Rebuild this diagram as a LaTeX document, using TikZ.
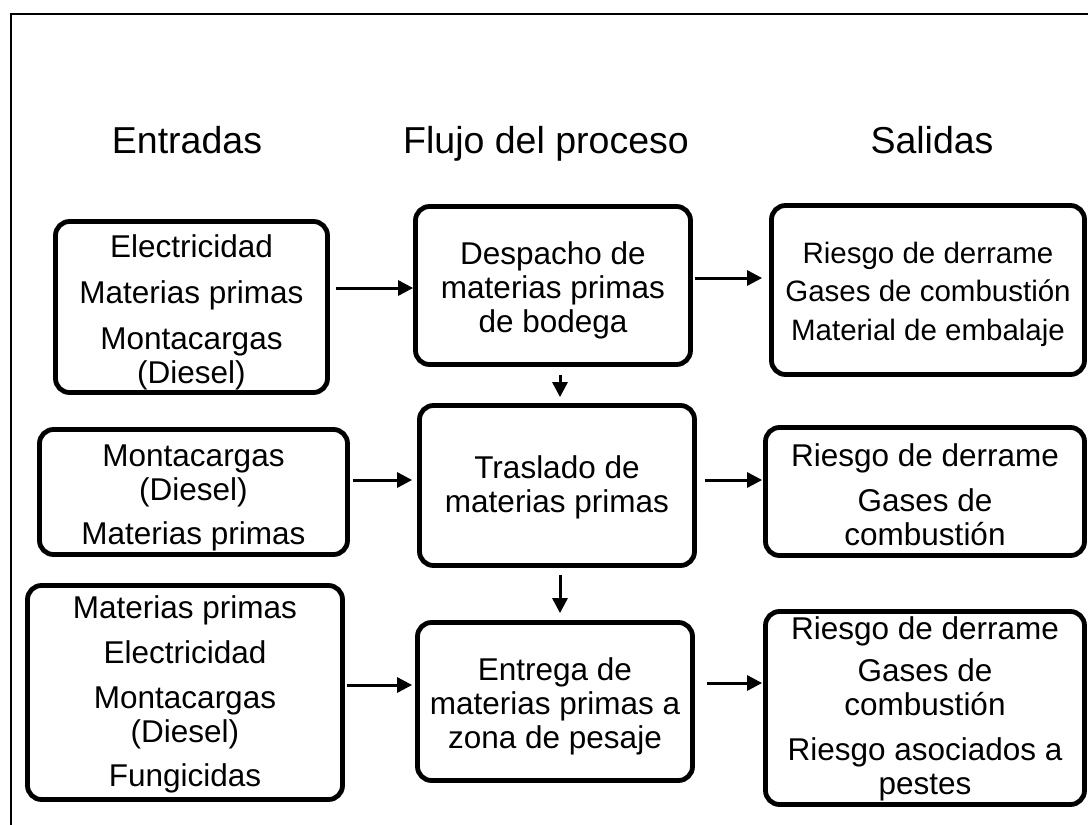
\documentclass[tikz,border=0pt]{standalone}
\usepackage{fontspec}
\setmainfont{Liberation Sans}
\usetikzlibrary{arrows.meta}
\newcommand\boxlines[2]{\raisebox{#1}[\height][\depth]{\begin{tabular}{@{}c@{}}#2\end{tabular}}}
\begin{document}
\begin{tikzpicture}[x=1pt,y=-1pt,
  box/.style={draw, line width=4.8pt, rounded corners=14pt, fill=white, inner sep=0pt,
              font=\fontsize{31.5}{34}\selectfont},
  smallbox/.style={box, font=\fontsize{29.5}{38.5}\selectfont},
  head/.style={font=\fontsize{37.5}{42}\selectfont, anchor=base},
  arr/.style={line width=3pt, -{Triangle[length=15pt,width=15pt]}}]
\useasboundingbox (0,0) rectangle (1088,825);
\clip (0,0) rectangle (1088,825);
\draw[line width=2pt] (10.5,13.5) rectangle (1100,840);

% headers
\node[head] (hE) at (187,153) {Entradas};
\node[head] (hF) at (546,153) {Flujo del proceso};
\node[head] (hS) at (932,153) {Salidas};

% row 1
\node[box, minimum width=272pt, minimum height=171pt] (A1) at (191.5,307)
  {\boxlines{-6.5pt}{Electricidad\\[12pt]Materias primas\\[12pt]Montacargas\\(Diesel)}};
\node[box, minimum width=275pt, minimum height=158pt] (P1) at (553,285.5)
  {\boxlines{-6pt}{Despacho de\\materias primas\\de bodega}};
\node[smallbox, minimum width=313pt, minimum height=169pt] (S1) at (928,290)
  {\boxlines{-4pt}{Riesgo de derrame\\Gases de combustión\\Material de embalaje}};

% row 2
\node[box, minimum width=308pt, minimum height=125pt] (A2) at (193.5,492)
  {\boxlines{-6.5pt}{Montacargas\\(Diesel)\\[10pt]Materias primas}};
\node[box, minimum width=275pt, minimum height=160pt] (P2) at (557,485.5)
  {\boxlines{-3pt}{Traslado de\\materias primas}};
\node[box, minimum width=319pt, minimum height=128pt] (S2) at (925,491.5)
  {\boxlines{-7.5pt}{Riesgo de derrame\\[11pt]Gases de\\combustión}};

% row 3
\node[box, minimum width=315pt, minimum height=214pt] (A3) at (185,692.5)
  {\boxlines{-3pt}{Materias primas\\[11pt]Electricidad\\[11pt]Montacargas\\(Diesel)\\[10pt]Fungicidas}};
\node[box, minimum width=275pt, minimum height=158pt] (P3) at (555,701.5)
  {\boxlines{-6.5pt}{Entrega de\\materias primas a\\zona de pesaje}};
\node[box, minimum width=319pt, minimum height=193pt] (S3) at (925,708)
  {\boxlines{-2.5pt}{Riesgo de derrame\\[8pt]Gases de\\combustión\\[11pt]Riesgo asociados a\\pestes}};

% row coordinates
\coordinate (h1) at (0,288);
\coordinate (h2) at (0,278);
\coordinate (h3) at (0,480);
\coordinate (h4) at (0,480);
\coordinate (h5) at (0,685);
\coordinate (h6) at (0,683);
\coordinate (vx) at (560,0);

% horizontal arrows
\draw[arr, shorten <=6pt] (A1.east |- h1) -- (P1.west |- h1);
\draw[arr, shorten <=2pt, shorten >=7pt] (P1.east |- h2) -- (S1.west |- h2);
\draw[arr, shorten <=3pt, shorten >=5pt] (A2.east |- h3) -- (P2.west |- h3);
\draw[arr, shorten <=8pt, shorten >=1pt] (P2.east |- h4) -- (S2.west |- h4);
\draw[arr, shorten <=2pt, shorten >=3pt] (A3.east |- h5) -- (P3.west |- h5);
\draw[arr, shorten <=12pt, shorten >=1pt] (P3.east |- h6) -- (S3.west |- h6);

% vertical arrows
\draw[arr, shorten <=8pt, shorten >=6pt] (vx |- P1.south) -- (vx |- P2.north);
\draw[arr, shorten <=7pt, shorten >=7pt] (vx |- P2.south) -- (vx |- P3.north);
\end{tikzpicture}
\end{document}
